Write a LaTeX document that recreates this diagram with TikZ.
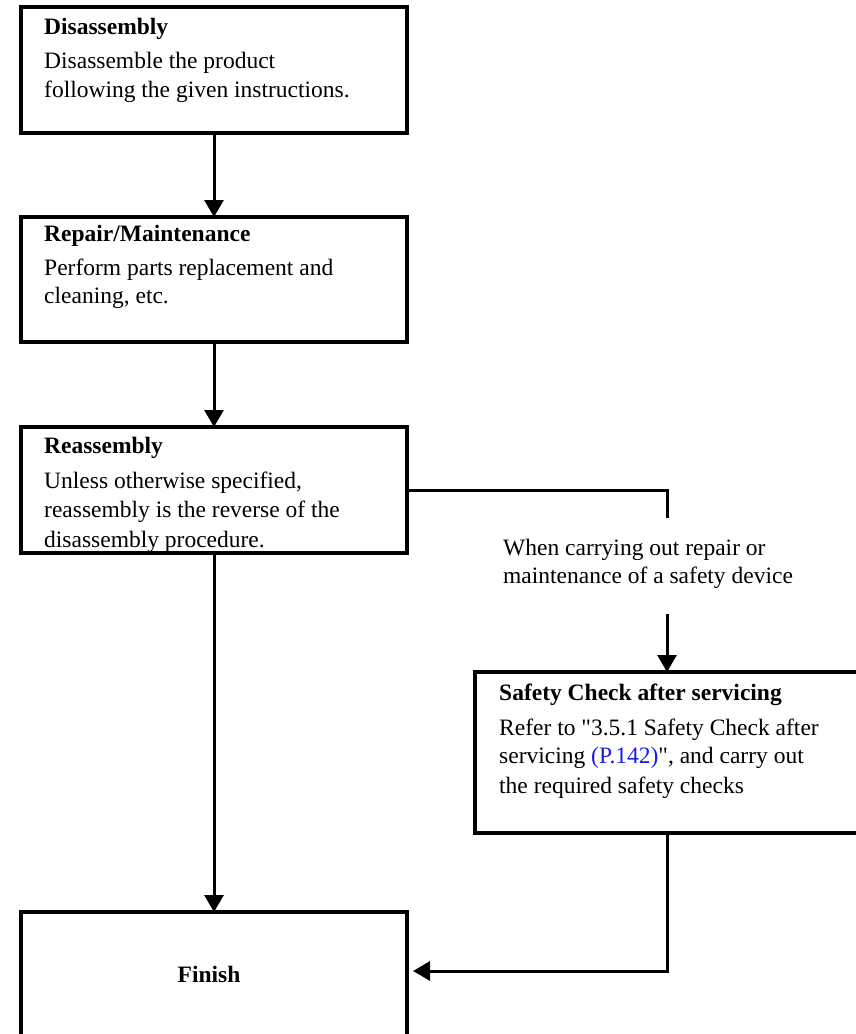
\documentclass[tikz,border=0pt]{standalone}
\usepackage{fontspec}
\setmainfont{Liberation Serif}[Ligatures=TeXOff]
\usetikzlibrary{arrows.meta}
\definecolor{linkblue}{RGB}{25,25,245}
\begin{document}
\begin{tikzpicture}[x=1pt,y=-1pt,
  box/.style={draw,line width=3.5pt,rectangle,inner sep=0pt,outer sep=0pt,anchor=north west},
  conn/.style={line width=3pt},
  arr/.style={conn,-{Triangle[width=19pt,length=17pt]}},
  txt/.style={inner sep=0pt,anchor=base west,font=\fontsize{23.5}{28}\selectfont},
  ttl/.style={txt,font=\fontsize{23.5}{28}\selectfont\bfseries}]
\useasboundingbox (0,0) rectangle (856,1034);
\clip (0,0) rectangle (856,1034);

% Disassembly
\node[box,minimum width=386pt,minimum height=126pt] (dis) at (21,7) {};
\node[ttl] (disT) at (44,34) {Disassembly};
\node[txt] (disA) at (44,68) {Disassemble the product};
\node[txt] (disB) at (44,97) {following the given instructions.};

% Repair
\node[box,minimum width=386pt,minimum height=125pt] (rep) at (21,217) {};
\node[ttl] (repT) at (44,241) {Repair/Maintenance};
\node[txt] (repA) at (44,275) {Perform parts replacement and};
\node[txt] (repB) at (44,303) {cleaning, etc.};

% Reassembly
\node[box,minimum width=386pt,minimum height=126pt] (rea) at (21,427) {};
\node[ttl] (reaT) at (44,453) {Reassembly};
\node[txt] (reaA) at (44,488) {Unless otherwise specified,};
\node[txt] (reaB) at (44,517) {reassembly is the reverse of the};
\node[txt] (reaC) at (44,547) {disassembly procedure.};

% Safety check
\node[box,minimum width=384pt,minimum height=161pt] (saf) at (475,672) {};
\node[ttl] (safT) at (499,700) {Safety Check after servicing};
\node[txt] (safA) at (499,735) {Refer to "3.5.1 Safety Check after};
\node[txt] (safB) at (499,763) {servicing {\color{linkblue}(P.142)}", and carry out};
\node[txt] (safC) at (499,793) {the required safety checks};

% Finish
\node[box,minimum width=386pt,minimum height=160pt] (fin) at (21,912) {};
\node[ttl,anchor=base] (finT) at (209,982) {Finish};

% condition label
\node[txt] (condA) at (503,555) {When carrying out repair or};
\node[txt] (condB) at (503,583) {maintenance of a safety device};

% connectors
\coordinate (c1) at (667,518);
\coordinate (c2) at (667,614);
\coordinate (c3) at (413,971);
\draw[arr] (dis.south) -- (rep.north);
\draw[arr] (rep.south) -- (rea.north);
\draw[arr] (rea.south) -- (fin.north);
\draw[conn] (rea.east) -| (c1);
\draw[arr] (c2) -- (saf.north);
\draw[arr] (saf.south) |- (c3);
\end{tikzpicture}
\end{document}
